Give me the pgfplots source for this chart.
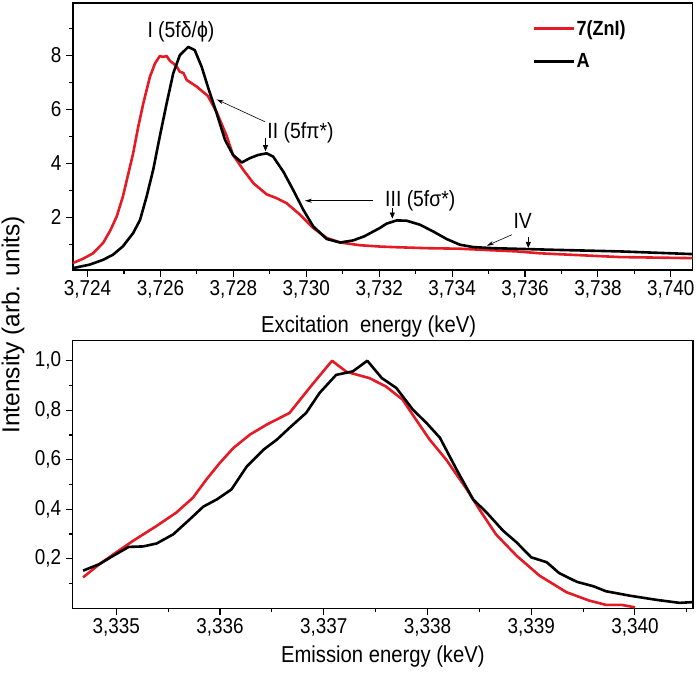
\documentclass[border=0pt]{standalone}
\usepackage{pgfplots}
\pgfplotsset{compat=1.18}
\usepackage{pgfplotstable}
\usepackage{fontspec}
\setmainfont{Liberation Sans}[FakeStretch=0.88]
\newfontfamily\ylabfont{Liberation Sans}
\usetikzlibrary{arrows.meta}
\definecolor{cred}{RGB}{228,26,36}

\pgfplotstableread{
x y
3.72360 0.30
3.72388 0.46
3.72415 0.66
3.72443 1.05
3.72462 1.50
3.72480 2.03
3.72497 2.77
3.72512 3.63
3.72525 4.37
3.72539 5.36
3.72553 6.23
3.72571 7.21
3.72585 7.71
3.72598 7.98
3.72607 7.95
3.72617 7.98
3.72626 7.80
3.72635 7.71
3.72644 7.60
3.72653 7.40
3.72663 7.35
3.72672 7.09
3.72699 6.85
3.72730 6.50
3.72754 5.90
3.72782 5.00
3.72799 4.31
3.72827 3.76
3.72855 3.26
3.72891 2.85
3.72918 2.71
3.72946 2.52
3.72983 2.09
3.73019 1.60
3.73056 1.23
3.73093 1.06
3.73147 0.96
3.73202 0.91
3.73238 0.89
3.73330 0.85
3.73421 0.83
3.73512 0.77
3.73577 0.73
3.73641 0.66
3.73734 0.60
3.73860 0.52
3.74060 0.48
}\exRed

\pgfplotstableread{
x y
3.72360 0.11
3.72406 0.24
3.72443 0.42
3.72470 0.61
3.72497 0.92
3.72525 1.41
3.72544 1.90
3.72562 2.77
3.72580 3.76
3.72598 4.99
3.72617 6.23
3.72635 7.34
3.72653 8.01
3.72676 8.32
3.72694 8.20
3.72713 7.58
3.72730 6.84
3.72754 5.86
3.72777 4.87
3.72799 4.31
3.72823 4.03
3.72845 4.19
3.72868 4.31
3.72891 4.37
3.72909 4.25
3.72937 3.69
3.72964 3.01
3.72992 2.27
3.73019 1.66
3.73056 1.19
3.73093 1.06
3.73129 1.14
3.73159 1.29
3.73202 1.60
3.73220 1.76
3.73248 1.88
3.73275 1.87
3.73312 1.72
3.73348 1.47
3.73385 1.19
3.73421 0.98
3.73458 0.89
3.73512 0.85
3.73568 0.83
3.73677 0.79
3.73860 0.73
3.74060 0.63
}\exBlack

\pgfplotstableread{
x y
3.33468 0.125
3.33484 0.179
3.33500 0.226
3.33516 0.272
3.33539 0.333
3.33558 0.387
3.33574 0.447
3.33587 0.521
3.33600 0.588
3.33613 0.648
3.33629 0.702
3.33645 0.742
3.33667 0.789
3.33687 0.894
3.33708 1.000
3.33722 0.955
3.33744 0.930
3.33760 0.896
3.33776 0.843
3.33789 0.762
3.33802 0.682
3.33818 0.601
3.33838 0.480
3.33850 0.400
3.33866 0.299
3.33886 0.212
3.33908 0.132
3.33934 0.065
3.33956 0.031
3.33972 0.014
3.33987 0.014
3.34000 0.004
}\emRed

\pgfplotstableread{
x y
3.33468 0.152
3.33484 0.179
3.33497 0.212
3.33512 0.248
3.33526 0.250
3.33539 0.262
3.33555 0.299
3.33571 0.360
3.33584 0.411
3.33597 0.440
3.33611 0.480
3.33626 0.574
3.33642 0.641
3.33655 0.682
3.33667 0.729
3.33683 0.789
3.33696 0.870
3.33712 0.943
3.33728 0.957
3.33742 1.000
3.33756 0.930
3.33770 0.890
3.33786 0.802
3.33799 0.749
3.33812 0.689
3.33828 0.561
3.33844 0.440
3.33857 0.387
3.33873 0.313
3.33886 0.266
3.33900 0.206
3.33915 0.186
3.33927 0.142
3.33944 0.107
3.33960 0.089
3.33972 0.069
3.33995 0.051
3.34021 0.034
3.34043 0.022
3.34056 0.025
}\emBlack

\pgfplotsset{
  common/.style={
    scale only axis,
    axis line style={line width=1.4pt},
    tick align=outside,
    tick pos=left,
    major tick length=7pt,
    minor tick length=4pt,
    every tick/.style={black, line width=1.1pt},
    tick label style={font=\fontsize{21.5}{24}\selectfont},
    label style={font=\fontsize{23}{26}\selectfont},
    /pgf/number format/assume math mode=true,
    scaled x ticks=false,
    scaled y ticks=false,
    xticklabel style={yshift=0pt},
    yticklabel style={xshift=-1pt},
  },
}

\begin{document}
\begin{tikzpicture}
\useasboundingbox (0pt,0pt) rectangle (696pt,678pt);

% ---- top: excitation ----
\begin{axis}[common,
  at={(73pt,408pt)}, anchor=south west,
  width=619.7pt, height=267pt,
  xmin=3.72360, xmax=3.74060,
  ymin=0.04, ymax=9.95,
  xtick={3.724,3.726,3.728,3.730,3.732,3.734,3.736,3.738,3.740},
  minor xtick={3.725,3.727,3.729,3.731,3.733,3.735,3.737,3.739},
  ytick={2,4,6,8},
  minor ytick={1,3,5,7,9},
  xticklabel={\pgfmathprintnumber[fixed,fixed zerofill,precision=3,use comma]{\tick}},
  xlabel={Excitation\ \ energy (keV)},
  xlabel style={at={(rel axis cs:0.477,-0.21)}, anchor=center},
  legend style={draw=none, fill=none, at={(rel axis cs:0.742,0.94)}, anchor=north west,
    inner sep=0pt, row sep=15pt, font=\fontsize{20.5}{23}\selectfont\bfseries,
    nodes={inner sep=1pt, anchor=west}},
  legend cell align=left,
  legend image code/.code={\draw[#1, line width=2.6pt] (0pt,0pt) -- (40pt,0pt);},
]
\addplot[cred, line width=2.6pt, line join=round] table[x=x,y=y] {\exRed};
\addlegendentry{7(ZnI)}
\addplot[black, line width=2.6pt, line join=round] table[x=x,y=y] {\exBlack};
\addlegendentry{A}

\node[font=\fontsize{22}{25}\selectfont] at (axis cs:3.72656,8.87) {I (5fδ/ϕ)};
\node[font=\fontsize{22}{25}\selectfont, anchor=west, inner sep=0pt] at (axis cs:3.72893,5.13) {II (5fπ*)};
\node[font=\fontsize{22}{25}\selectfont, anchor=west, inner sep=0pt] at (axis cs:3.73216,2.61) {III (5fσ*)};
\node[font=\fontsize{22}{25}\selectfont, anchor=west, inner sep=0pt] at (axis cs:3.73568,1.87) {IV};

\draw[line width=0.6pt, -{Stealth[length=7pt,width=4pt]}] (axis cs:3.72887,5.54) -- (axis cs:3.72754,6.37);
\draw[line width=0.6pt, -{Stealth[length=7pt,width=4pt]}] (axis cs:3.73184,2.61) -- (axis cs:3.72996,2.61);
\draw[line width=0.6pt, -{Stealth[length=7pt,width=4pt]}] (axis cs:3.73564,1.35) -- (axis cs:3.73495,0.94);
\draw[line width=0.6pt, -{Triangle[length=6pt,width=5pt]}] (axis cs:3.72888,4.95) -- (axis cs:3.72888,4.45);
\draw[line width=0.6pt, -{Triangle[length=6pt,width=5pt]}] (axis cs:3.73236,2.35) -- (axis cs:3.73236,1.95);
\draw[line width=0.6pt, -{Triangle[length=6pt,width=5pt]}] (axis cs:3.73609,1.25) -- (axis cs:3.73609,0.86);
\end{axis}

% ---- bottom: emission ----
\begin{axis}[common,
  at={(72.7pt,69.7pt)}, anchor=south west,
  width=620.3pt, height=267.6pt,
  xmin=3.33458, xmax=3.34056,
  ymin=0, ymax=1.081,
  xtick={3.335,3.336,3.337,3.338,3.339,3.340},
  minor xtick={3.3355,3.3365,3.3375,3.3385,3.3395,3.3405},
  ytick={0.2,0.4,0.6,0.8,1.0},
  minor ytick={0.1,0.3,0.5,0.7,0.9},
  xticklabel={\pgfmathprintnumber[fixed,fixed zerofill,precision=3,use comma]{\tick}},
  yticklabel={\pgfmathprintnumber[fixed,fixed zerofill,precision=1,use comma]{\tick}},
  xlabel={Emission energy (keV)},
  xlabel style={at={(rel axis cs:0.5,-0.182)}, anchor=center},
]
\addplot[cred, line width=2.6pt, line join=round] table[x=x,y=y] {\emRed};
\addplot[black, line width=2.6pt, line join=round] table[x=x,y=y] {\emBlack};
\end{axis}

\node[rotate=90, font=\ylabfont\fontsize{24.5}{27}\selectfont] at (13pt,353pt) {Intensity (arb. units)};
\end{tikzpicture}
\end{document}
